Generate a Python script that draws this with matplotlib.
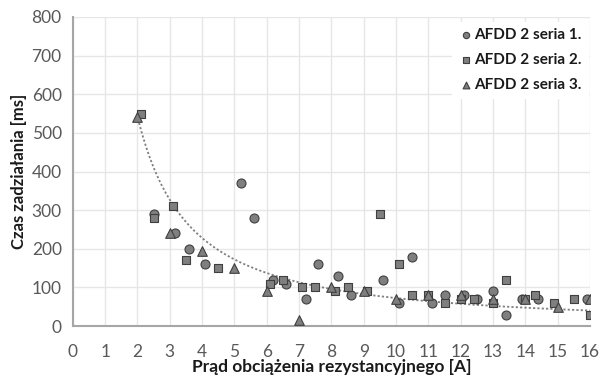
import matplotlib
matplotlib.use("Agg")
import matplotlib.pyplot as plt
import numpy as np

# AFDD 2 - series 1 (circles)
x1 = [2.5, 3.15, 3.6, 4.1, 5.2, 5.6, 6.2, 6.6, 7.2, 7.6, 8.2, 8.6, 9.6, 10.1,
      10.5, 11.1, 11.5, 12.1, 12.5, 13.0, 13.4, 13.9, 14.4, 15.9]
y1 = [290, 240, 200, 160, 370, 280, 120, 110, 70, 160, 130, 80, 120, 60,
      180, 60, 80, 80, 70, 90, 30, 70, 70, 70]

# series 2 (squares)
x2 = [2.1, 2.5, 3.1, 3.5, 4.5, 6.1, 6.5, 7.1, 7.5, 8.1, 8.5, 9.1, 9.5, 10.1,
      10.5, 11.0, 11.5, 12.0, 12.4, 13.0, 13.4, 14.0, 14.3, 14.9, 15.5, 16.0]
y2 = [550, 280, 310, 170, 150, 110, 120, 100, 100, 90, 100, 90, 290, 160,
      80, 80, 60, 70, 70, 60, 120, 70, 80, 60, 70, 30]

# series 3 (triangles)
x3 = [2.0, 3.0, 4.0, 5.0, 6.0, 7.0, 8.0, 9.0, 10.0, 11.0, 12.0, 13.0, 14.0, 15.0, 16.0]
y3 = [540, 240, 195, 150, 90, 15, 100, 90, 70, 80, 80, 70, 70, 50, 70]

# power trendline y = a * x^b, coefficients
trend_a = 1290
trend_b = -1.25
trend_range = [2.05, 16]

xticks = list(range(0, 17))
yticks = list(range(0, 801, 100))

plt.rcParams['font.family'] = ['Lato', 'DejaVu Sans']

fig = plt.figure(figsize=(6.02, 3.77), dpi=100)
ax = fig.add_axes([0.121, 0.135, 0.859, 0.82])

face = "#7f7f7f"
edge = "#3f3f3f"
ax.scatter(x1, y1, marker="o", s=42, c=face, edgecolors=edge, linewidths=0.8,
           label="AFDD 2 seria 1.", zorder=3)
ax.scatter(x2, y2, marker="s", s=40, c=face, edgecolors=edge, linewidths=0.8,
           label="AFDD 2 seria 2.", zorder=3)
ax.scatter(x3, y3, marker="^", s=48, c=face, edgecolors=edge, linewidths=0.8,
           label="AFDD 2 seria 3.", zorder=3)

xt = np.linspace(trend_range[0], trend_range[1], 200)
ax.plot(xt, trend_a * xt ** trend_b, color="#808080", lw=1.3,
        ls=(0, (1.2, 1.2)), zorder=2)

ax.set_xlim(0, 16)
ax.set_ylim(0, 800)
ax.set_xticks(xticks)
ax.set_yticks(yticks)
ax.grid(True, color="#e6e6e6", lw=1.0, zorder=0)
ax.set_axisbelow(True)
for s in ["top", "right"]:
    ax.spines[s].set_visible(False)
for s in ["left", "bottom"]:
    ax.spines[s].set_color("#a6a6a6")
    ax.spines[s].set_linewidth(1.5)
ax.tick_params(length=0, labelsize=12.5, labelcolor="#595959")
ax.tick_params(axis="x", pad=13)
ax.tick_params(axis="y", pad=8)

ax.set_xlabel("Prąd obciążenia rezystancyjnego [A]", fontsize=12.5,
              fontweight="bold", color="#1a1a1a", labelpad=-1)
ax.set_ylabel("Czas zadziałania [ms]", fontsize=12, fontweight="bold",
              color="#1a1a1a", labelpad=3)

leg = ax.legend(loc="upper right", bbox_to_anchor=(1.005, 1.0), frameon=True,
                framealpha=1, edgecolor="white", fontsize=11, handletextpad=0.05,
                borderaxespad=0.3, labelspacing=0.72, handlelength=1.0,
                markerscale=0.7)
for t in leg.get_texts():
    t.set_fontweight("bold")
    t.set_color("#1a1a1a")

fig.savefig("out.png", dpi=100)
